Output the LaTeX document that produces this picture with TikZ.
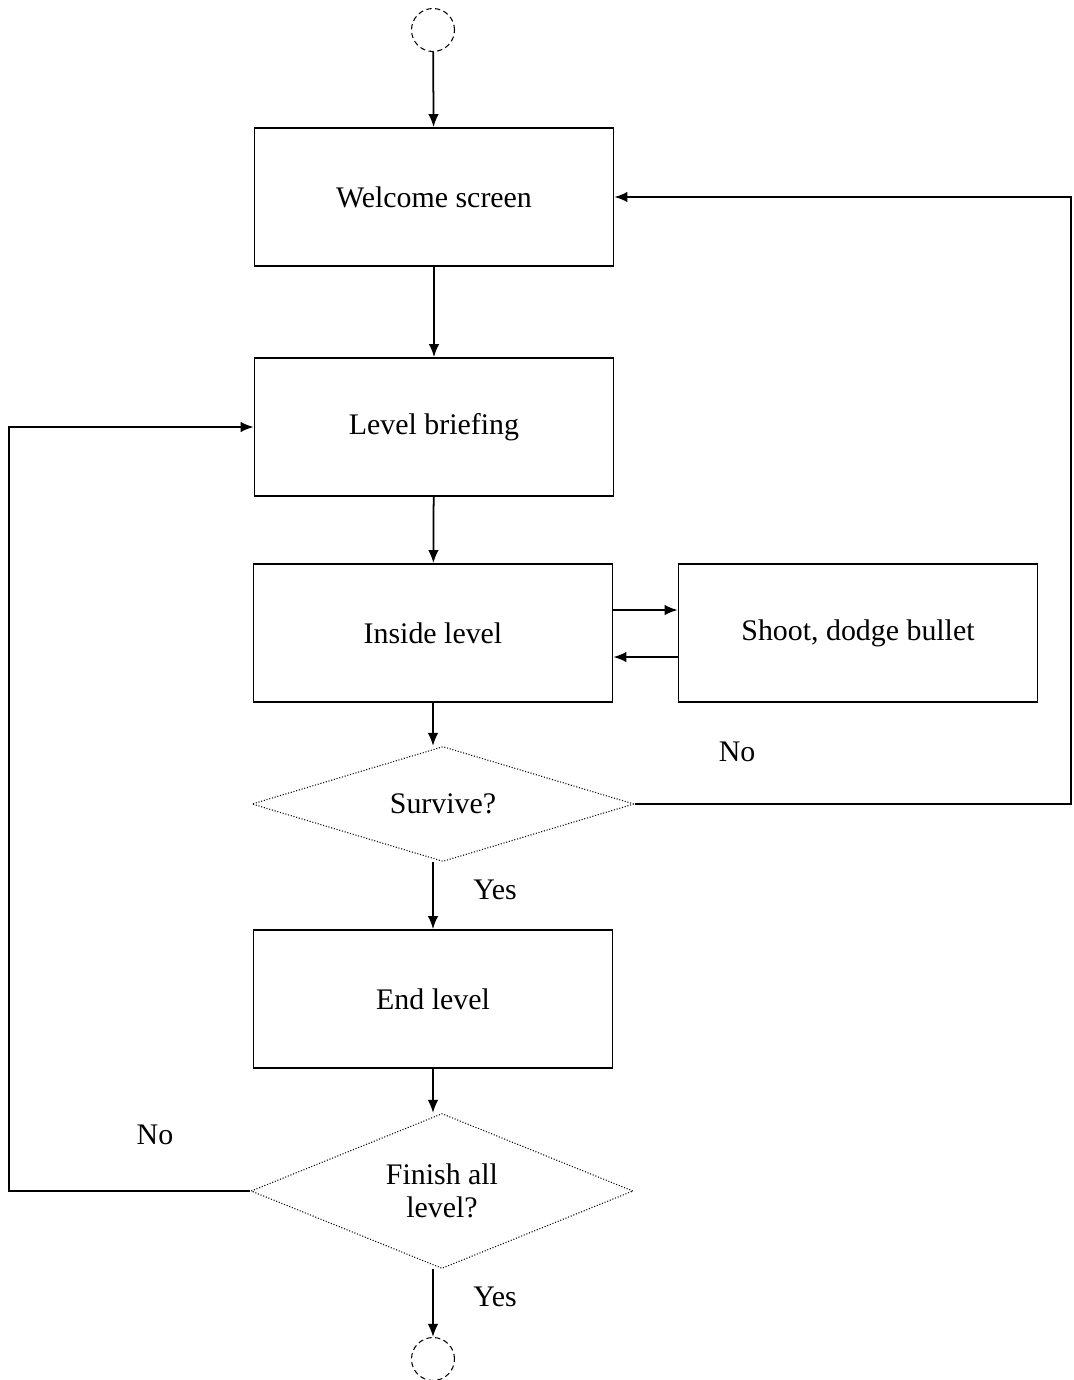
\documentclass[tikz,border=0pt]{standalone}
\usepackage{fontspec}
\setmainfont{Liberation Serif}
\usetikzlibrary{shapes.geometric,calc,arrows.meta}

\tikzset{
  stepbox/.style={draw, line width=1pt, minimum width=7.18cm, minimum height=2.76cm, inner sep=0pt},
  decide/.style={draw, diamond, densely dotted, line width=0.6pt, shape aspect=3.3, minimum width=7.64cm, minimum height=2.3cm, inner sep=0pt, align=center},
  terminal/.style={draw, circle, densely dashed, line width=0.6pt, minimum size=0.86cm, inner sep=0pt},
  arr/.style={-{Latex[length=2.6mm,width=2.1mm]}, line width=1pt}
}

\begin{document}
\begin{tikzpicture}[x=0.2mm, y=-0.2mm, every node/.append style={font=\fontsize{17}{19}\selectfont}]

\useasboundingbox (0,0) rectangle (1073,1380);

\node[terminal] (start) at (433,30) {};
\node[stepbox] (welcome) at (434,197) {Welcome screen};
\node[stepbox] (brief) at (434,427) {Level briefing};
\node[stepbox] (inside) at (433,633) {Inside level};
\node[stepbox] (shoot) at (858,633) {Shoot, dodge bullet};
\node[decide] (surv) at (443,804) {Survive?};
\node[stepbox] (endlvl) at (433,999) {End level};
\node[decide, shape aspect=2.46, minimum height=3.1cm] (fin) at (442,1191) {Finish all\\level?};
\node[terminal] (stop) at (433,1359) {};

\coordinate (rc) at (1071,0);
\coordinate (lc) at (9,0);

\draw[arr] (start) -- (welcome);
\draw[arr] (welcome) -- (brief);
\draw[arr] (brief) -- (inside);
\draw[arr] ($(inside.east)+(0,-23)$) -- ($(shoot.west)+(0,-23)$);
\draw[arr] ($(shoot.west)+(0,24)$) -- ($(inside.east)+(0,24)$);
\draw[arr] (inside.south) -- (inside.south |- surv.north);
\draw[arr] (endlvl.north |- surv.south) -- (endlvl.north);
\draw[arr] (endlvl.south) -- (endlvl.south |- fin.north);
\draw[arr] (stop.north |- fin.south) -- (stop.north);

\draw[arr] (surv.east) -- (surv.east -| rc) |- (welcome.east);
\draw[arr] (fin.west) -- (fin.west -| lc) |- (brief.west);

\node (no1) at (737,752) {No};
\node (yes1) at (495,890) {Yes};
\node (no2) at (155,1135) {No};
\node (yes2) at (495,1297) {Yes};

\end{tikzpicture}
\end{document}
